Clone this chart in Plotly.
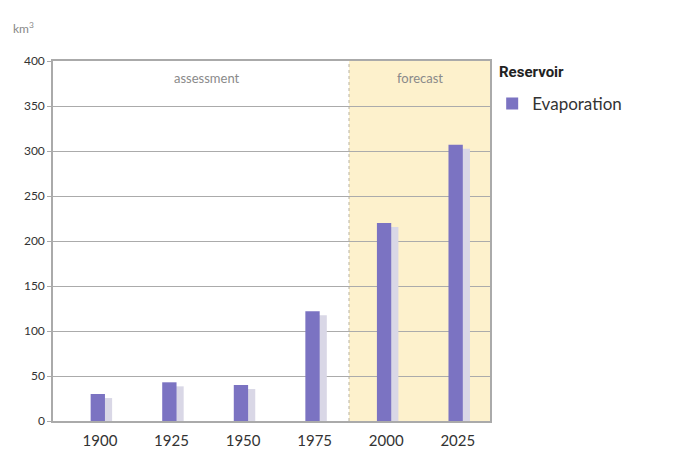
import plotly.graph_objects as go

years = ["1900", "1925", "1950", "1975", "2000", "2025"]
evaporation = [30, 43, 40, 122, 220, 307]
y_ticks = [0, 50, 100, 150, 200, 250, 300, 350, 400]

xpos = list(range(len(years)))
bar_color = "#7b73c2"
shadow_color = "#d9d7e6"

fig = go.Figure()

# forecast shaded region
fig.add_shape(type="rect", xref="x", yref="y", x0=3.48, x1=5.45, y0=0, y1=400,
              fillcolor="#fdf1cc", line=dict(width=0), layer="below")
fig.add_shape(type="line", xref="x", yref="y", x0=3.48, x1=3.48, y0=0, y1=400,
              line=dict(color="#b8b2a0", width=1, dash="dot"), layer="below")

# shadow
fig.add_trace(go.Bar(x=xpos, y=evaporation, base=[-4.5] * len(years),
                     width=0.2, offset=-0.1 + 0.07,
                     marker=dict(color=shadow_color, line=dict(width=0)),
                     showlegend=False, hoverinfo="skip"))
# main bars
fig.add_trace(go.Bar(x=xpos, y=evaporation, width=0.2, offset=-0.13,
                     marker=dict(color=bar_color, line=dict(width=0)),
                     name="Evaporation"))

fig.add_annotation(x=1.5, y=381, xref="x", yref="y", text="assessment", showarrow=False,
                   font=dict(family="Lato", size=13, color="#8a8a8a"))
fig.add_annotation(x=4.47, y=381, xref="x", yref="y", text="forecast", showarrow=False,
                   font=dict(family="Lato", size=13, color="#8a8a8a"))
fig.add_annotation(x=0, y=1.0, xref="paper", yref="paper", xshift=-42, yshift=33,
                   text="km<sup>3</sup>", showarrow=False, xanchor="left", yanchor="middle",
                   font=dict(family="Lato", size=12, color="#888"))
fig.add_annotation(x=1, y=1.0, xref="paper", yref="paper", xshift=7, yshift=-11,
                   text="<b>Reservoir</b>", showarrow=False, xanchor="left", yanchor="middle",
                   font=dict(family="Liberation Sans Narrow, Roboto", size=15, color="#222"))

fig.update_layout(
    width=693, height=462,
    margin=dict(l=53, r=203, t=61, b=41),
    paper_bgcolor="white", plot_bgcolor="white",
    barmode="overlay",
    font=dict(family="Lato", color="#333"),
    legend=dict(x=1.005, y=0.8806, xanchor="left", yanchor="middle",
                font=dict(family="Lato", size=17, color="#333"),
                bgcolor="rgba(0,0,0,0)"),
    xaxis=dict(range=[-0.656, 5.45], tickmode="array", tickvals=xpos, ticktext=years,
               showgrid=False, zeroline=False, showline=True, linecolor="#aaaaaa", linewidth=1.5,
               mirror=True, ticks="", tickfont=dict(size=15, color="#333"),
               ticklabelstandoff=5),
    yaxis=dict(range=[0, 400], tickmode="array", tickvals=y_ticks,
               showgrid=True, gridcolor="#ababab", gridwidth=1.2, zeroline=False,
               showline=True, linecolor="#aaaaaa", linewidth=1.5, mirror=True,
               ticks="outside", ticklen=4, tickcolor="#aaaaaa",
               tickfont=dict(size=12, color="#333")),
)

fig.write_html("out.html")
